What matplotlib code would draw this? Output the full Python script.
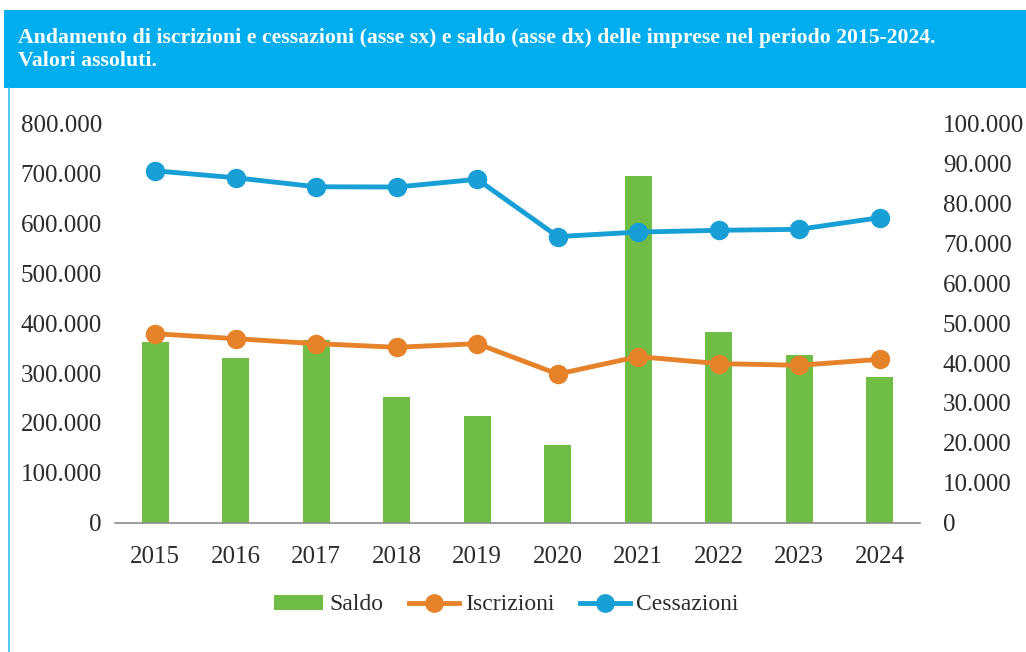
import matplotlib.pyplot as plt
from matplotlib.lines import Line2D
from matplotlib.patches import Patch, Rectangle
from matplotlib.ticker import FuncFormatter

anni = ['2015', '2016', '2017', '2018', '2019', '2020', '2021', '2022', '2023', '2024']
saldo = [45200, 41300, 45900, 31400, 26700, 19400, 86900, 47900, 42000, 36600]
iscrizioni = [379000, 369000, 359000, 351700, 359000, 298000, 333000, 319000, 315600, 327600]
cessazioni = [706000, 692000, 674000, 673500, 689000, 574000, 583000, 586600, 588600, 612000]

title = ('Andamento di iscrizioni e cessazioni (asse sx) e saldo (asse dx) delle imprese nel periodo 2015-2024.\n'
         'Valori assoluti.')

GREEN = '#6FBD44'
ORANGE = '#E6832A'
BLUE = '#189FD5'
BAND = '#00AEEF'
TEXT = '#2B2B2B'

plt.rcParams['font.family'] = ['Liberation Serif', 'DejaVu Serif']


def fmt_it(v, pos=None):
    return f'{int(round(v)):,}'.replace(',', '.')


fig = plt.figure(figsize=(10.26, 6.52), dpi=100)

# title band and left border
fig.patches.append(Rectangle((4 / 1026, 1 - 88 / 652), 1, 78 / 652, transform=fig.transFigure,
                             facecolor=BAND, edgecolor='none', zorder=0))
fig.add_artist(Line2D([8.5 / 1026, 8.5 / 1026], [0, 1 - 88 / 652], transform=fig.transFigure,
                      color='#33BDF0', lw=1.2))
fig.text(18 / 1026, 1 - 50 / 652, title, color='white', fontsize=15.7, fontweight='bold',
         va='center', ha='left', linespacing=1.2)

ax = fig.add_axes([115 / 1026, 1 - 522.5 / 652, 805 / 1026, 398.5 / 652])
ax2 = ax.twinx()

x = list(range(len(anni)))
ax2.bar(x, saldo, width=0.33, color=GREEN, zorder=1)

ax.plot(x, iscrizioni, color=ORANGE, lw=3.5, marker='o', ms=13, zorder=3)
ax.plot(x, cessazioni, color=BLUE, lw=3.5, marker='o', ms=13, zorder=3)

# lines above the bars
ax.set_zorder(ax2.get_zorder() + 1)
ax.patch.set_visible(False)

ax.set_xlim(-0.5, len(anni) - 0.5)
ax.set_ylim(0, 800000)
ax2.set_ylim(0, 100000)
ax.set_yticks(range(0, 800001, 100000))
ax2.set_yticks(range(0, 100001, 10000))
ax.yaxis.set_major_formatter(FuncFormatter(fmt_it))
ax2.yaxis.set_major_formatter(FuncFormatter(fmt_it))
ax.set_xticks(x)
ax.set_xticklabels(anni)

for a in (ax, ax2):
    for s in a.spines.values():
        s.set_visible(False)
    a.tick_params(length=0, labelsize=18, labelcolor=TEXT)
ax.spines['bottom'].set_visible(True)
ax.spines['bottom'].set_color('#8C8C8C')
ax.spines['bottom'].set_linewidth(1.2)
ax.tick_params(axis='x', pad=17)
ax.tick_params(axis='y', pad=9.5)
ax2.tick_params(axis='y', pad=16.5)

handles = [
    Patch(facecolor=GREEN, edgecolor='none'),
    Line2D([], [], color=ORANGE, lw=3.5, marker='o', ms=12.5),
    Line2D([], [], color=BLUE, lw=3.5, marker='o', ms=12.5),
]
fig.legend(handles, ['Saldo', 'Iscrizioni', 'Cessazioni'], loc='center',
           bbox_to_anchor=(506 / 1026, 1 - 605 / 652), ncol=3, frameon=False,
           fontsize=17, handlelength=2.1, handleheight=0.6, handletextpad=0.25,
           columnspacing=1.1, labelcolor=TEXT)

fig.savefig('out.png', dpi=100)
